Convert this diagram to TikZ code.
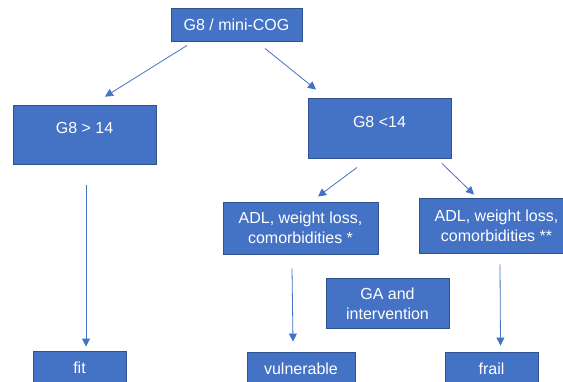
\documentclass[tikz,border=0pt]{standalone}
\usepackage{fontspec}
\setmainfont{Liberation Sans}
\usetikzlibrary{arrows.meta}
\definecolor{boxfill}{HTML}{4472C4}
\definecolor{boxline}{HTML}{2F528F}
\definecolor{arrcol}{HTML}{4472C4}
\begin{document}
\begin{tikzpicture}[x=1pt,y=-1pt,
  box/.style={draw=boxline,line width=0.9pt,fill=boxfill,text=white,
    font=\fontsize{16}{20}\selectfont,align=center,inner sep=0pt},
  arr/.style={draw=arrcol,line width=0.8pt,-{Triangle[length=8pt,width=8pt]}}]
\useasboundingbox (0,0) rectangle (563,382);
\clip (0,0) rectangle (563,382);
\node[box,minimum width=131pt,minimum height=33pt] (top) at (236.5,24.5) {G8 / mini-COG};
\node[box,minimum width=143pt,minimum height=59pt] (gt) at (84.5,135.3) {\raisebox{7pt}[\height][\depth]{G8 > 14}};
\node[box,minimum width=143pt,minimum height=60pt] (lt) at (379.5,128) {\raisebox{6pt}[\height][\depth]{G8 <14}};
\node[box,minimum width=155pt,minimum height=52pt] (adla) at (300.5,228) {ADL, weight loss,\\comorbidities *};
\node[box,minimum width=155pt,minimum height=55pt] (adlb) at (496.5,225.5) {ADL, weight loss,\\comorbidities **};
\node[box,minimum width=123pt,minimum height=50pt] (ga) at (387.5,303.5) {GA and\\intervention};
\node[box,minimum width=93pt,minimum height=34pt] (fit) at (79.5,368) {fit};
\node[box,minimum width=108pt,minimum height=34pt] (vul) at (301,369) {vulnerable};
\node[box,minimum width=93pt,minimum height=34pt] (frail) at (491.5,369) {frail};
\draw[arr] ([xshift=-49.5pt,yshift=-4pt]top.south) -- ([xshift=20.5pt,yshift=8.7pt]gt.north);
\draw[arr] ([xshift=28.5pt,yshift=-7pt]top.south) -- ([xshift=-63.5pt,yshift=8pt]lt.north);
\draw[arr] ([xshift=-22.5pt,yshift=-9pt]lt.south) -- ([xshift=17.5pt,yshift=5pt]adla.north);
\draw[arr] ([xshift=62.5pt,yshift=-5pt]lt.south) -- ([xshift=-22.5pt,yshift=3pt]adlb.north);
\draw[arr] ([xshift=1.5pt,yshift=-20pt]gt.south) -- ([xshift=6.5pt,yshift=4pt]fit.north);
\draw[arr] ([xshift=-8.5pt,yshift=-14pt]adla.south) -- ([xshift=-8pt,yshift=10pt]vul.north);
\draw[arr] ([xshift=3.5pt,yshift=-11pt]adlb.south) -- ([xshift=9pt,yshift=6pt]frail.north);
\end{tikzpicture}
\end{document}
